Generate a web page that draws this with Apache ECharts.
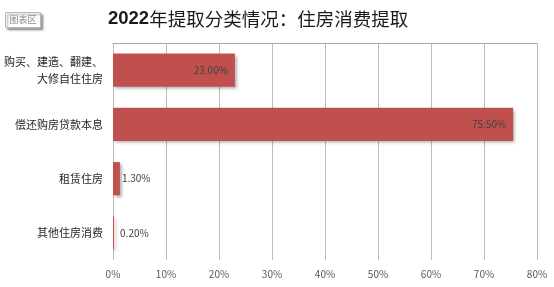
<!DOCTYPE html>
<html>
<head>
<meta charset="utf-8">
<script src="https://cdn.jsdelivr.net/npm/echarts@6/dist/echarts.min.js"></script>
<style>
  html, body { margin: 0; padding: 0; background: #fff; }
  #chart { width: 554px; height: 287px; }
</style>
</head>
<body>
<div id="chart"></div>
<script>
// Housing-consumption withdrawals by purpose, 2022 (share of total, %)
var categories = [
  '购买、建造、翻建、\n大修自住住房',
  '偿还购房贷款本息',
  '租赁住房',
  '其他住房消费'
];
var shares = [23.00, 75.50, 1.30, 0.20];
var axisTicks = [0, 10, 20, 30, 40, 50, 60, 70, 80];

var chart = echarts.init(document.getElementById('chart'), null, { renderer: 'canvas' });

var font = '"Noto Sans CJK SC", "Noto Sans", sans-serif';

// labels sit inside the bar end for long bars, outside for short ones
var barData = shares.map(function (v) {
  var inside = v > 10;
  return {
    value: v,
    label: {
      show: true,
      position: inside ? 'insideRight' : 'right',
      distance: inside ? 7 : (v < 1 ? 6 : 2),
      formatter: function (p) { return p.value.toFixed(2) + '%'; },
      color: '#404040',
      fontSize: 10,
      fontFamily: font
    }
  };
});

chart.setOption({
  animation: false,
  title: {
    text: '{num|2022}{cjk|年提取分类情况：住房消费提取}',
    left: 103,
    top: 4,
    textStyle: {
      rich: {
        num: { fontSize: 18.5, fontWeight: 'bold', fontFamily: '"Liberation Sans", sans-serif', color: '#1a1a1a' },
        cjk: { fontSize: 18.5, fontWeight: 'normal', fontFamily: font, color: '#1a1a1a' }
      }
    }
  },
  graphic: [{
    type: 'group',
    left: 5,
    top: 12,
    children: [{
      type: 'rect',
      shape: { x: 0, y: 0, width: 35, height: 15 },
      style: { fill: '#fdfdfd', stroke: '#b8b8b8', lineWidth: 1, shadowColor: 'rgba(0,0,0,0.35)', shadowBlur: 2, shadowOffsetX: 2, shadowOffsetY: 2 }
    }, {
      type: 'text',
      style: { x: 17.5, y: 7.5, text: '图表区', fill: '#8a8a8a', font: '9px ' + font, align: 'center', verticalAlign: 'middle' }
    }]
  }],
  grid: { left: 113, right: 17, top: 43, bottom: 27, containLabel: false },
  xAxis: [{
    type: 'value',
    min: axisTicks[0],
    max: axisTicks[axisTicks.length - 1],
    interval: 10,
    axisLine: { show: false },
    axisTick: { show: false },
    axisLabel: {
      formatter: '{value}%',
      color: '#595959',
      fontSize: 10,
      fontFamily: font,
      margin: 9
    },
    splitLine: { show: true, lineStyle: { color: '#bcbcbc', width: 1 } }
  }, {
    // top border of the plot
    type: 'value',
    position: 'top',
    min: axisTicks[0],
    max: axisTicks[axisTicks.length - 1],
    interval: 10,
    axisLine: { show: true, lineStyle: { color: '#a6a6a6', width: 1 } },
    axisTick: { show: false },
    axisLabel: { show: false },
    splitLine: { show: false }
  }],
  yAxis: {
    type: 'category',
    inverse: true,
    data: categories,
    axisLine: { show: false },
    axisTick: { show: false },
    axisLabel: {
      color: '#262626',
      fontSize: 11,
      fontFamily: font,
      margin: 10,
      lineHeight: 17,
      align: 'right'
    },
    splitLine: { show: false }
  },
  series: [{
    type: 'bar',
    xAxisIndex: 0,
    data: barData,
    barCategoryGap: '39%',
    itemStyle: {
      color: '#c0504d',
      shadowColor: 'rgba(0,0,0,0.3)',
      shadowBlur: 3,
      shadowOffsetX: 2,
      shadowOffsetY: 2
    }
  }]
});
</script>
</body>
</html>
